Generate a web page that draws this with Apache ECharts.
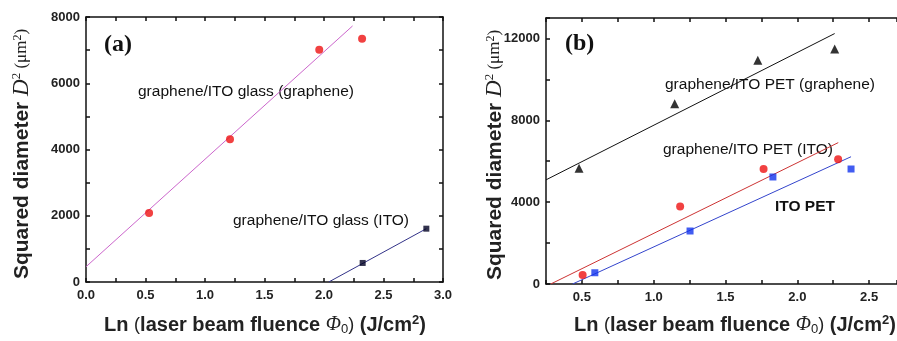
<!DOCTYPE html>
<html><head><meta charset="utf-8">
<script src="https://cdn.jsdelivr.net/npm/echarts@6/dist/echarts.min.js"></script>
<style>html,body{margin:0;padding:0;background:#fff}#c{width:897px;height:341px}</style>
</head><body><div id="c"></div>
<script>
// Panel (a) data
const aGrapheneX = [0.53, 1.21, 1.96, 2.32];
const aGrapheneY = [2080, 4310, 7010, 7340];
const aGrapheneFitX = [0, 2.24];
const aGrapheneFitY = [460, 7730];
const aItoX = [2.325, 2.86];
const aItoY = [575, 1610];
const aItoFitX = [2.04, 2.86];
const aItoFitY = [0, 1610];
// Panel (b) data
const bGrapheneX = [0.48, 1.146, 1.725, 2.26];
const bGrapheneY = [5660, 8810, 10940, 11490];
const bGrapheneFitX = [0.25, 2.26];
const bGrapheneFitY = [5090, 12240];
const bPetItoX = [0.505, 1.184, 1.765, 2.284];
const bPetItoY = [440, 3790, 5620, 6100];
const bPetItoFitX = [0.283, 2.285];
const bPetItoFitY = [0, 6910];
const bItoPetX = [0.59, 1.253, 1.83, 2.374];
const bItoPetY = [550, 2590, 5230, 5620];
const bItoPetFitX = [0.435, 2.374];
const bItoPetFitY = [0, 6220];
// axis tick labels
const aXLabels = ['0.0','0.5','1.0','1.5','2.0','2.5','3.0'];
const aYLabels = ['0','2000','4000','6000','8000'];
const bXLabels = ['0.5','1.0','1.5','2.0','2.5'];
const bYLabels = ['0','4000','8000','12000'];

const zip = (xs, ys) => xs.map((x, i) => [x, ys[i]]);
const labelFont = {fontFamily: 'Arial, "Liberation Sans", sans-serif', fontWeight: 'bold', fontSize: 13, color: '#222'};
function fmtX(list){ return v => { const s = v.toFixed(1); return (Math.abs(v*2-Math.round(v*2))<1e-6 && list.includes(s)) ? s : ''; }; }
function fmtY(list){ return v => { const s = String(Math.round(v)); return list.includes(s) ? s : ''; }; }
const axLine = {show: true, onZero: false, lineStyle: {color: '#111', width: 1.5}};
const tick = {show: true, inside: true, length: 4, lineStyle: {color: '#111', width: 1.5}};

function xAxis(grid, min, max, pos, labels){
  return {type: 'value', gridIndex: grid, min, max, interval: 0.25, position: pos,
    axisLine: axLine, axisTick: tick, splitLine: {show: false},
    axisLabel: labels ? Object.assign({show: true, margin: 7, formatter: fmtX(labels), showMinLabel: true, showMaxLabel: true}, labelFont) : {show: false}};
}
function yAxis(grid, max, interval, pos, labels, hidden){
  return {type: 'value', gridIndex: grid, min: 0, max, interval, position: pos, show: !hidden,
    axisLine: axLine, axisTick: tick, splitLine: {show: false},
    axisLabel: labels ? Object.assign({show: true, margin: 6, formatter: fmtY(labels), showMinLabel: true, showMaxLabel: true}, labelFont) : {show: false}};
}
function lineS(xi, yi, xs, ys, color){
  return {type: 'line', xAxisIndex: xi, yAxisIndex: yi, data: zip(xs, ys), symbol: 'none', lineStyle: {color, width: 1}, silent: true, z: 2};
}
function scatS(xi, yi, xs, ys, symbol, size, color){
  return {type: 'scatter', xAxisIndex: xi, yAxisIndex: yi, data: zip(xs, ys), symbol, symbolSize: size, itemStyle: {color}, z: 3};
}

const serif = '"Liberation Serif", "Times New Roman", serif';
const sans = 'Arial, "Liberation Sans", sans-serif';
const yRich = {
  a: {fontFamily: sans, fontWeight: 'bold', fontSize: 21, fill: '#222'},
  b: {fontFamily: serif, fontStyle: 'italic', fontSize: 23, fill: '#222'},
  e: {fontFamily: serif, fontSize: 13, fill: '#222', padding: [0,0,10,0]},
  d: {fontFamily: serif, fontSize: 17, fill: '#222'},
  f: {fontFamily: serif, fontSize: 12, fill: '#222', padding: [0,0,9,0]}
};
const xRich = {
  a: {fontFamily: sans, fontWeight: 'bold', fontSize: 20, fill: '#222'},
  p: {fontFamily: sans, fontSize: 18, fill: '#222'},
  f: {fontFamily: serif, fontStyle: 'italic', fontSize: 20, fill: '#222'},
  sub: {fontFamily: sans, fontSize: 13, fill: '#222', padding: [9,0,0,0]},
  sup: {fontFamily: sans, fontWeight: 'bold', fontSize: 13, fill: '#222', padding: [0,0,10,0]}
};
const yTitle = '{a|Squared diameter }{b|D}{e|2}{d| (μm}{f|2}{d|)}';
const xTitle = '{a|Ln }{p|(}{a|laser beam fluence }{f|Φ}{sub|0}{p|)}{a| (J/cm}{sup|2}{a|)}';
const annFont = {fontFamily: sans, fontSize: 15.5, fill: '#111'};
function txt(x, y, text, extra){
  return {type: 'text', x, y, style: Object.assign({text, textVerticalAlign: 'middle'}, annFont, extra || {})};
}

const option = {
  backgroundColor: '#fff',
  animation: false,
  grid: [
    {left: 86, top: 17, width: 357, height: 265, outerBoundsMode: 'none'},
    {left: 546, top: 18, width: 351, height: 266, outerBoundsMode: 'none'}
  ],
  xAxis: [
    xAxis(0, 0, 3, 'bottom', aXLabels), xAxis(0, 0, 3, 'top', null),
    xAxis(1, 0.25, 2.694, 'bottom', bXLabels), xAxis(1, 0.25, 2.694, 'top', null)
  ],
  yAxis: [
    yAxis(0, 8000, 1000, 'left', aYLabels), yAxis(0, 8000, 1000, 'right', null),
    yAxis(1, 13000, 2000, 'left', bYLabels), yAxis(1, 13000, 2000, 'right', null, true)
  ],
  series: [
    lineS(0, 0, aGrapheneFitX, aGrapheneFitY, '#cc66cc'),
    scatS(0, 0, aGrapheneX, aGrapheneY, 'circle', 8, '#ee1111'),
    lineS(0, 0, aItoFitX, aItoFitY, '#333388'),
    scatS(0, 0, aItoX, aItoY, 'rect', 6, '#000022'),
    lineS(2, 2, bGrapheneFitX, bGrapheneFitY, '#111111'),
    scatS(2, 2, bGrapheneX, bGrapheneY, 'triangle', 9, '#000000'),
    lineS(2, 2, bPetItoFitX, bPetItoFitY, '#cc3333'),
    scatS(2, 2, bPetItoX, bPetItoY, 'circle', 8, '#ee1111'),
    lineS(2, 2, bItoPetFitX, bItoPetFitY, '#3344cc'),
    scatS(2, 2, bItoPetX, bItoPetY, 'rect', 7, '#1133ee')
  ],
  graphic: [
    {type: 'text', x: 104, y: 45, style: {text: '(a)', font: 'bold 24px "Liberation Serif", "Times New Roman", serif', fill: '#111', textVerticalAlign: 'middle'}},
    {type: 'text', x: 565, y: 44, style: {text: '(b)', font: 'bold 24px "Liberation Serif", "Times New Roman", serif', fill: '#111', textVerticalAlign: 'middle'}},
    txt(138, 92, 'graphene/ITO glass (graphene)'),
    txt(233, 221, 'graphene/ITO glass (ITO)'),
    txt(665, 85, 'graphene/ITO PET (graphene)'),
    txt(663, 150, 'graphene/ITO PET (ITO)'),
    txt(775, 207, 'ITO PET', {fontWeight: 'bold'}),
    {type: 'text', x: 22, y: 154, rotation: Math.PI/2, style: {text: yTitle, rich: yRich, textAlign: 'center', textVerticalAlign: 'middle'}},
    {type: 'text', x: 495, y: 155, rotation: Math.PI/2, style: {text: yTitle, rich: yRich, textAlign: 'center', textVerticalAlign: 'middle'}},
    {type: 'text', x: 265, y: 325, style: {text: xTitle, rich: xRich, textAlign: 'center', textVerticalAlign: 'middle'}},
    {type: 'text', x: 735, y: 325, style: {text: xTitle, rich: xRich, textAlign: 'center', textVerticalAlign: 'middle'}}
  ]
};
const chart = echarts.init(document.getElementById('c'), null, {renderer: 'canvas'});
chart.setOption(option);
</script></body></html>
